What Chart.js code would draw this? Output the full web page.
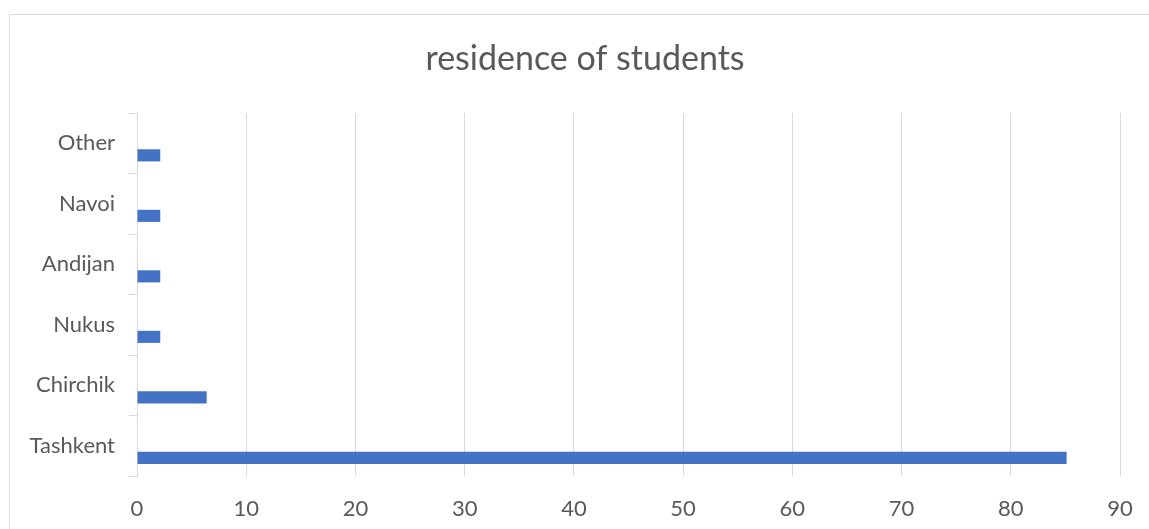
<!DOCTYPE html>
<html>
<head>
<meta charset="utf-8">
<script src="https://cdn.jsdelivr.net/npm/chart.js@4.4.1/dist/chart.umd.min.js"></script>
<style>
  html, body { margin: 0; padding: 0; background: #fff; overflow: hidden; }
  #frame { position: absolute; left: 9px; top: 14px; width: 1160px; height: 540px; border: 1px solid #d9d9d9; }
  #wrap { position: absolute; left: 0; top: 0; width: 1149px; height: 529px; }
</style>
</head>
<body>
<div id="frame"></div>
<div id="wrap"><canvas id="residenceChart"></canvas></div>
<script>
// share of students by city (%)
var cities = ['Tashkent', 'Chirchik', 'Nukus', 'Andijan', 'Navoi', 'Other']
var shares = [85.11, 6.38, 2.13, 2.13, 2.13, 2.13]
var emptySeries = [null, null, null, null, null, null]
var xTicks = [0, 10, 20, 30, 40, 50, 60, 70, 80, 90]
var chartTitle = 'residence of students'

var labelFont = { family: 'Lato', size: 22 }
var grey = '#595959'
var gridGrey = '#d9d9d9'

// title is centred on the outer frame, not on the plot
var frameTitle = {
    id: 'frameTitle',
    afterDraw: function(chart) {
        var c = chart.ctx
        c.save()
        c.fillStyle = grey
        c.font = '34px Lato'
        c.textAlign = 'center'
        c.textBaseline = 'middle'
        c.fillText(chartTitle, 585, 59)
        c.restore()
    }
}

var ctx = document.getElementById('residenceChart').getContext('2d');
new Chart(ctx, {
    type: 'bar',
    data: {
        labels: cities,
        datasets: [
            { label: 's1', data: emptySeries, backgroundColor: '#4472c4' },
            { label: 's2', data: emptySeries, backgroundColor: '#4472c4' },
            { label: 'residence', data: shares, backgroundColor: '#4472c4' }
        ]
    },
    plugins: [frameTitle],
    options: {
        indexAxis: 'y',
        responsive: true,
        maintainAspectRatio: false,
        animation: false,
        layout: { padding: { top: 113, right: 29, bottom: 0, left: 0 } },
        plugins: {
            legend: { display: false },
            tooltip: { enabled: false },
            title: { display: false }
        },
        datasets: {
            bar: { categoryPercentage: 0.6, barPercentage: 1 }
        },
        scales: {
            x: {
                min: 0,
                max: 90,
                afterBuildTicks: function(scale) {
                    scale.ticks = xTicks.map(function(v) { return { value: v } })
                },
                afterFit: function(scale) {
                    scale.height = 53
                    scale.paddingLeft = 0
                    scale.paddingRight = 0
                },
                grid: { color: gridGrey, drawTicks: false },
                border: { display: false },
                ticks: { color: grey, font: labelFont, padding: 20 }
            },
            y: {
                reverse: true,
                afterFit: function(scale) { scale.width = 137 },
                grid: { offset: true, drawOnChartArea: false, tickLength: 8, color: gridGrey },
                border: { display: true, color: gridGrey },
                ticks: { color: grey, font: labelFont, padding: 14 }
            }
        }
    }
});
</script>
</body>
</html>
